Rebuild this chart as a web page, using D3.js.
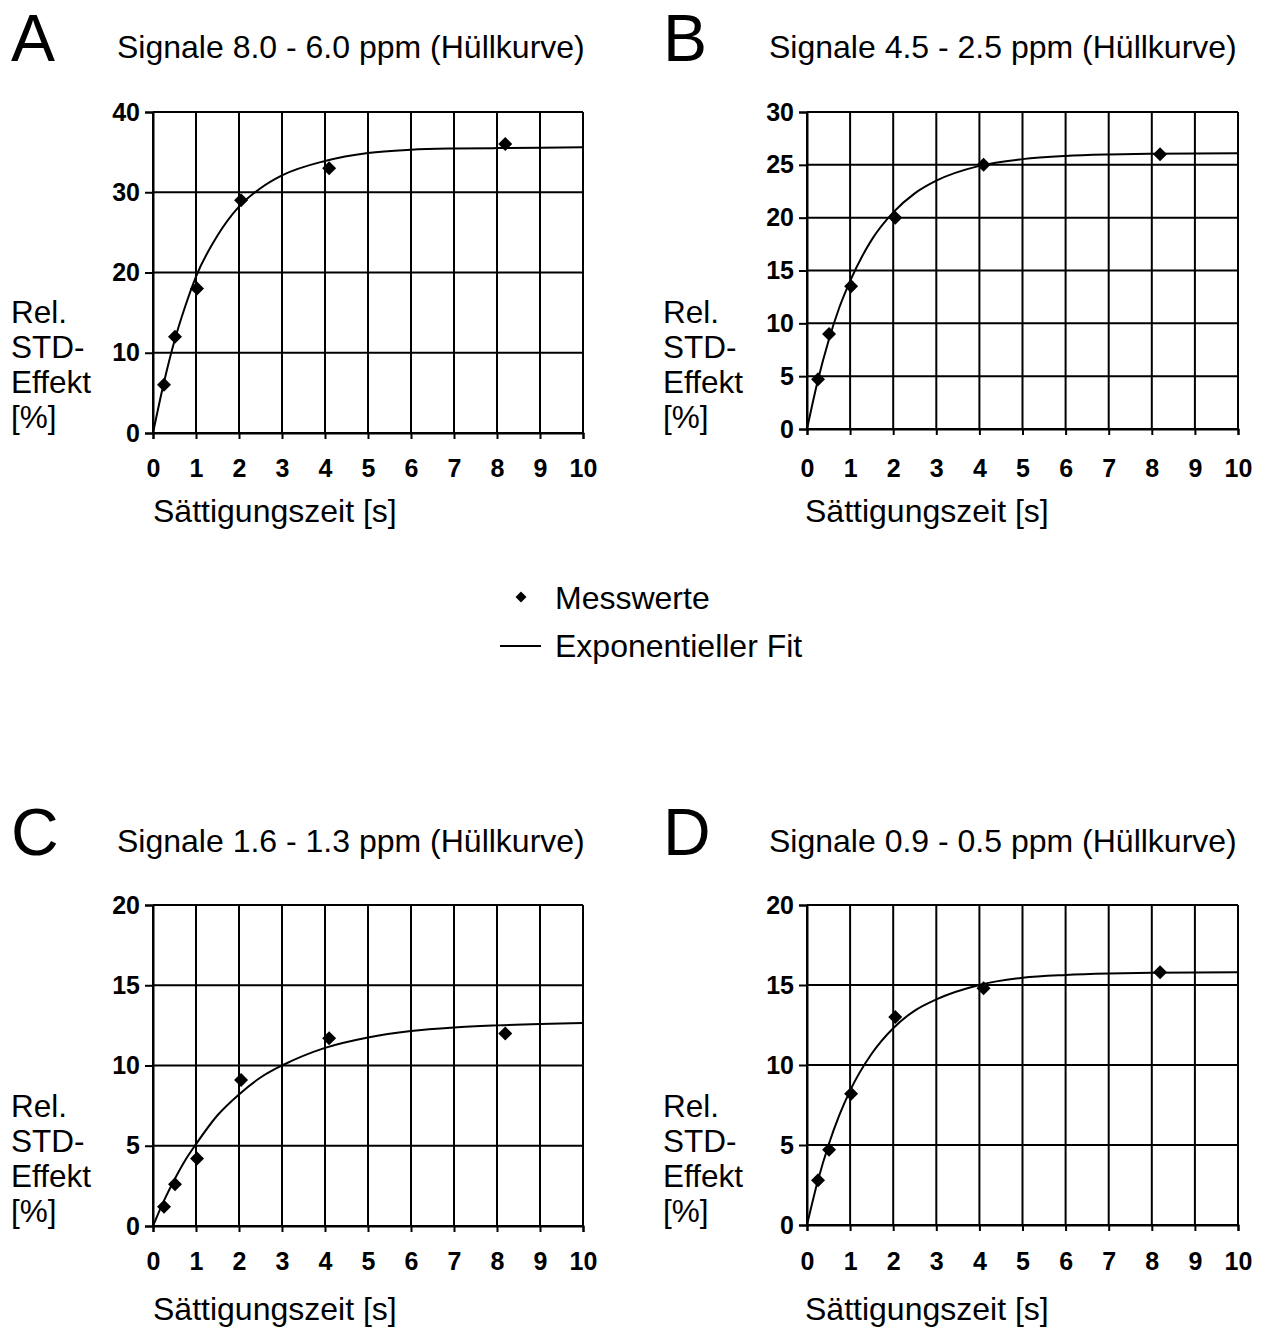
<!DOCTYPE html>
<html>
<head>
<meta charset="utf-8">
<script src="https://cdn.jsdelivr.net/npm/d3@7"></script>
<style>
  html, body { margin: 0; padding: 0; background: #fff; }
  svg { display: block; }
  text { font-family: "Liberation Sans", Arial, Helvetica, sans-serif; fill: #000; }
</style>
</head>
<body>
<svg id="chart" width="1263" height="1329"></svg>
<script>
// ---------- data ----------
const panelLetters = ["A", "B", "C", "D"];
const panelTitles = [
  "Signale 8.0 - 6.0 ppm (Hüllkurve)",
  "Signale 4.5 - 2.5 ppm (Hüllkurve)",
  "Signale 1.6 - 1.3 ppm (Hüllkurve)",
  "Signale 0.9 - 0.5 ppm (Hüllkurve)"
];
const xTicks = [0, 1, 2, 3, 4, 5, 6, 7, 8, 9, 10];
const yTicksA = [0, 10, 20, 30, 40];
const yTicksB = [0, 5, 10, 15, 20, 25, 30];
const yTicksC = [0, 5, 10, 15, 20];
const yTicksD = [0, 5, 10, 15, 20];

// measured saturation times [s]
const satTimes = [0.256, 0.512, 1.024, 2.048, 4.096, 8.192];
const messA = [6, 12, 18, 29, 33, 36];
const messB = [4.7, 9, 13.5, 20, 25, 26];
const messC = [1.2, 2.6, 4.2, 9.1, 11.7, 12.0];
const messD = [2.8, 4.7, 8.2, 13.0, 14.8, 15.8];

// exponential fit curve
const fitTimes = [0, 0.25, 0.5, 0.75, 1, 1.5, 2, 2.5, 3, 4, 5, 6, 7, 8, 10];
const fitA = [0, 6.2, 11.5, 15.8, 19.5, 24.6, 28.2, 30.5, 32.1, 33.9, 34.9, 35.3, 35.45, 35.5, 35.6];
const fitB = [0, 4.57, 8.36, 11.5, 14.0, 17.9, 20.5, 22.3, 23.5, 24.9, 25.54, 25.84, 25.98, 26.05, 26.09];
const fitC = [0, 1.55, 2.9, 4.1, 5.1, 6.9, 8.2, 9.25, 10.0, 11.1, 11.75, 12.15, 12.37, 12.5, 12.65];
const fitD = [0, 2.75, 5.0, 6.86, 8.4, 10.7, 12.3, 13.4, 14.1, 15.0, 15.45, 15.63, 15.72, 15.76, 15.8];

const legendLabels = ["Messwerte", "Exponentieller Fit"];
const xAxisLabel = "Sättigungszeit [s]";
const yAxisLabelLines = ["Rel.", "STD-", "Effekt", "[%]"];

// ---------- layout ----------
const svg = d3.select("#chart");
svg.append("rect").attr("width", 1263).attr("height", 1329).attr("fill", "#fff");

const panels = [
  { x0: 153, x1: 583, yTop: 112, yBot: 433, dx: 0, dy: 0, pad: 20, xlab: 522, ticks: yTicksA, mess: messA, fit: fitA },
  { x0: 807, x1: 1238, yTop: 112, yBot: 429, dx: 652, dy: 0, pad: 24, xlab: 522, ticks: yTicksB, mess: messB, fit: fitB },
  { x0: 153, x1: 583, yTop: 905, yBot: 1226, dx: 0, dy: 794, pad: 20, xlab: 1320, ticks: yTicksC, mess: messC, fit: fitC },
  { x0: 807, x1: 1238, yTop: 905, yBot: 1225, dx: 652, dy: 794, pad: 21, xlab: 1320, ticks: yTicksD, mess: messD, fit: fitD }
];

const diamond = s => `M0,${-s}L${s},0L0,${s}L${-s},0Z`;

panels.forEach((p, i) => {
  const g = svg.append("g");
  const x = d3.scaleLinear().domain([0, 10]).range([p.x0, p.x1]);
  const y = d3.scaleLinear().domain([0, d3.max(p.ticks)]).range([p.yBot, p.yTop]);

  // letter + title
  g.append("text").attr("x", 11 + p.dx).attr("y", 61 + p.dy)
    .attr("font-size", 66).text(panelLetters[i]);
  g.append("text").attr("x", 117 + p.dx).attr("y", 58 + p.dy)
    .attr("font-size", 32).text(panelTitles[i]);

  // grid
  g.append("g").selectAll("line").data(p.ticks).join("line")
    .attr("x1", p.x0).attr("x2", p.x1)
    .attr("y1", d => y(d)).attr("y2", d => y(d))
    .attr("stroke", "#000").attr("stroke-width", 2);
  g.append("g").selectAll("line").data(xTicks).join("line")
    .attr("x1", d => x(d)).attr("x2", d => x(d))
    .attr("y1", p.yTop).attr("y2", p.yBot)
    .attr("stroke", "#000").attr("stroke-width", 2);

  // axes
  const ax = g.append("g").attr("transform", `translate(0,${p.yBot})`)
    .call(d3.axisBottom(x).tickValues(xTicks).tickSize(6).tickPadding(p.pad).tickFormat(d3.format("d")));
  const ay = g.append("g").attr("transform", `translate(${p.x0},0)`)
    .call(d3.axisLeft(y).tickValues(p.ticks).tickSize(8).tickPadding(5).tickFormat(d3.format("d")));
  [ax, ay].forEach(a => {
    a.select(".domain").attr("stroke", "#000").attr("stroke-width", 2);
    a.selectAll(".tick line").attr("stroke", "#000").attr("stroke-width", 2);
    a.selectAll(".tick text").attr("font-size", 25).attr("font-weight", "bold")
      .attr("font-family", "'Liberation Sans', Arial, sans-serif").attr("fill", "#000");
  });

  // axis labels
  g.append("text").attr("x", 153 + p.dx).attr("y", p.xlab)
    .attr("font-size", 32).text(xAxisLabel);
  g.append("g").selectAll("text").data(yAxisLabelLines).join("text")
    .attr("x", 11 + p.dx).attr("y", (d, k) => 323 + p.dy + k * 35)
    .attr("font-size", 31.5).text(d => d);

  // fit curve
  const line = d3.line().x((d, k) => x(fitTimes[k])).y(d => y(d)).curve(d3.curveMonotoneX);
  g.append("path").datum(p.fit).attr("d", line)
    .attr("fill", "none").attr("stroke", "#000").attr("stroke-width", 2);

  // measured points
  g.append("g").selectAll("path").data(p.mess).join("path")
    .attr("transform", (d, k) => `translate(${x(satTimes[k])},${y(d)})`)
    .attr("d", diamond(7)).attr("fill", "#000");
});

// legend
const lg = svg.append("g");
lg.append("path").attr("transform", "translate(521,597)").attr("d", diamond(5.5)).attr("fill", "#000");
lg.append("text").attr("x", 555).attr("y", 609).attr("font-size", 32).text(legendLabels[0]);
lg.append("line").attr("x1", 500).attr("x2", 541).attr("y1", 646).attr("y2", 646)
  .attr("stroke", "#000").attr("stroke-width", 2);
lg.append("text").attr("x", 555).attr("y", 657).attr("font-size", 32).text(legendLabels[1]);
</script>
</body>
</html>
